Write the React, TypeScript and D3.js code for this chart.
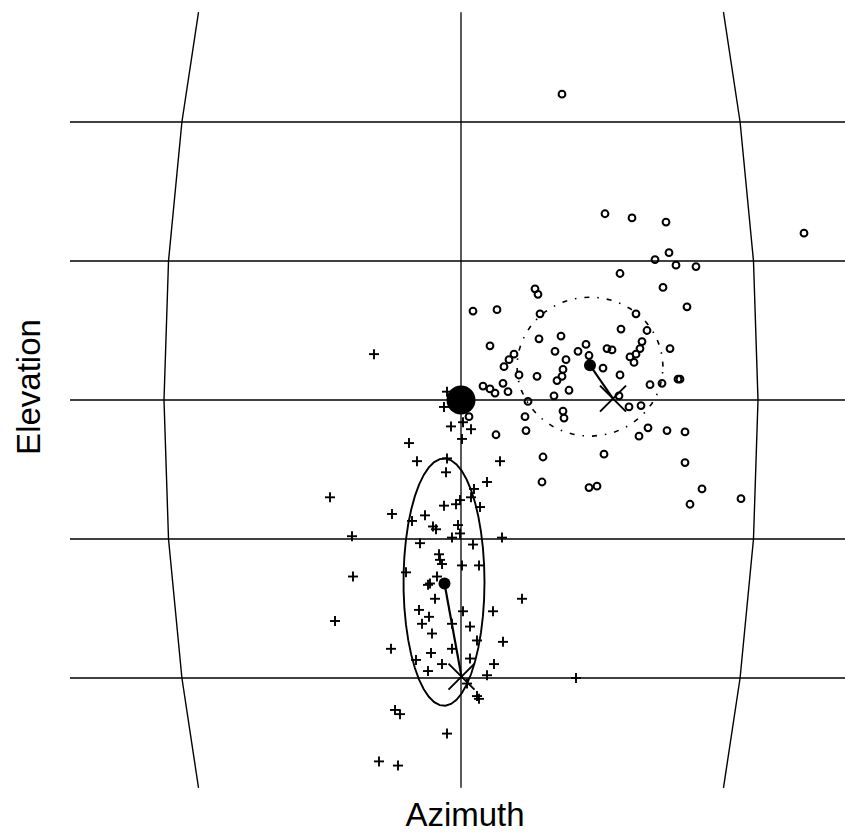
import React from "react";
import * as d3 from "d3";

// ---- data (azimuth / elevation, degrees) ----
const gridElevations = [-20, -10, 0, 10, 20];
const elevationExtent = [-27.9, 27.9];
const meridianAzimuths = [-29.7, 29.7];
const parallelAzimuthExtent = [-39.1, 40];
const meridianSampleElevations = [-27.9, -20, -10, 0, 10, 20, 27.9];

const circleAz = [10.1, 14.4, 17.1, 20.5, 34.3, 20.8, 19.4, 21.5, 23.5, 15.9, 20.2, 7.4, 7.7, 22.6, 1.2, 3.6, 7.9, 17.5, 16.0, 18.6, 2.9, 7.8, 10.0, 12.5, 9.4, 11.7, 14.6, 15.1, 18.1, 17.9, 17.5, 16.9, 17.3, 20.9, 5.3, 4.8, 4.3, 10.5, 12.8, 10.2, 10.1, 9.6, 14.2, 5.8, 7.6, 15.9, 4.2, 2.2, 2.9, 3.4, 4.7, 10.8, 9.3, 18.9, 20.1, 21.7, 21.9, 6.7, 15.8, 16.8, 18.0, 6.4, 10.2, 10.3, 0.8, 3.5, 6.5, 18.7, 17.8, 20.6, 22.4, 8.2, 14.3, 22.4, 8.1, 12.8, 13.6, 24.1, 22.9, 28.0];
const circleEl = [22.0, 13.4, 13.1, 12.8, 12.0, 10.6, 10.1, 9.7, 9.6, 9.1, 8.1, 8.0, 7.6, 6.7, 6.4, 6.5, 6.2, 6.2, 5.1, 5.0, 3.9, 4.4, 4.6, 4.0, 3.5, 3.5, 3.7, 3.6, 4.2, 3.7, 3.3, 3.1, 2.7, 3.7, 3.3, 2.9, 2.4, 2.9, 3.2, 2.2, 1.7, 1.4, 2.3, 1.8, 1.7, 1.8, 1.2, 1.0, 0.8, 0.5, 0.6, 0.7, 0.3, 1.1, 1.2, 1.5, 1.5, -0.1, 0.3, -0.5, -0.4, -1.2, -0.8, -1.3, -1.2, -2.5, -2.2, -2.0, -2.6, -2.2, -2.3, -4.1, -3.9, -4.5, -5.9, -6.3, -6.2, -6.4, -7.5, -7.1];

const plusAz = [-8.7, -1.4, -1.7, -1.0, 0.2, 1.0, 0.1, -5.2, -4.4, -1.4, 3.9, -1.5, 2.6, 1.3, 1.0, -0.1, -0.5, -1.7, 1.9, -13.1, -6.9, -3.6, -4.9, -2.8, -2.5, -0.3, -0.1, -0.9, -10.9, -4.1, 1.2, 4.1, -2.2, -2.1, -1.9, 0.1, 1.8, -5.5, -10.8, -2.4, -3.3, -3.1, -2.6, 6.1, -12.6, -4.2, 0.2, 3.2, -3.2, -3.9, -0.9, 0.9, -2.9, 1.6, 4.2, -7.0, -3.0, -0.9, -4.5, 0.9, -1.9, 3.3, -3.3, 2.6, 11.5, 0.6, 1.6, 1.8, -6.6, -6.1, -1.4, -8.2, -6.3];
const plusEl = [3.3, 0.6, -0.5, -1.9, -1.6, -2.1, -2.8, -3.1, -4.4, -4.2, -4.4, -5.2, -5.9, -6.4, -7.0, -7.2, -7.5, -7.6, -7.7, -7.0, -8.2, -8.3, -8.7, -9.1, -9.3, -9.0, -9.6, -9.9, -9.8, -10.3, -10.4, -9.9, -11.1, -11.5, -11.8, -11.9, -11.9, -12.4, -12.7, -12.7, -13.3, -13.2, -14.3, -14.3, -15.9, -15.1, -15.2, -15.2, -15.6, -16.1, -16.1, -16.3, -16.8, -17.3, -17.4, -17.9, -18.2, -17.9, -18.7, -18.6, -19.0, -19.0, -19.5, -19.8, -20.0, -20.4, -21.3, -21.5, -22.3, -22.6, -24.0, -26.0, -26.3];

// origin, group means, targets (X) and spread ellipses
const origin = [0, 0];
const circleMean = [12.9, 2.5];
const circleTarget = [15.2, 0.1];
const circleEllipse = [12.9, 2.4, 7.3, 5.0]; // cx, cy, rAz, rEl
const plusMean = [-1.65, -13.2];
const plusTarget = [0.05, -19.9];
const plusEllipse = [-1.7, -13.1, 4.05, 8.9];

const W = 845;
const H = 834;

export default function App() {
  const x = d3.scaleLinear().domain([-30, 30]).range([161, 761]);
  const y = d3.scaleLinear().domain([-20, 20]).range([678, 122]);
  const rad = Math.PI / 180;

  const meridianPath = (az: number) =>
    d3
      .line<number>()
      .x((el) => x(az * Math.cos(el * rad)))
      .y((el) => y(el))(meridianSampleElevations) as string;

  const ellipsePath = (e: number[]) => {
    const pts = d3.range(0, 361, 8).map((t) => [
      x(e[0] + e[2] * Math.cos(t * rad)),
      y(e[1] + e[3] * Math.sin(t * rad)),
    ]);
    return d3.line()(pts as [number, number][]) as string;
  };

  const circles = circleAz.map((a, i) => [a, circleEl[i]]);
  const pluses = plusAz.map((a, i) => [a, plusEl[i]]);

  const ps = 5;
  const xs = 13;

  const cross = (p: number[], key: string) => {
    const cx = x(p[0]);
    const cy = y(p[1]);
    return (
      <g key={key} stroke="#000" strokeWidth={2}>
        <line x1={cx - xs} y1={cy - xs} x2={cx + xs} y2={cy + xs} />
        <line x1={cx - xs} y1={cy + xs} x2={cx + xs} y2={cy - xs} />
      </g>
    );
  };

  return (
    <svg
      width={W}
      height={H}
      style={{ position: "absolute", left: 0, top: 0, background: "#fff" }}
      fontFamily="'Liberation Sans', Arial, sans-serif"
    >
      <rect width={W} height={H} fill="#fff" />
      {/* parallels */}
      {gridElevations.map((el) => (
        <line
          key={"h" + el}
          x1={x(parallelAzimuthExtent[0])}
          x2={x(parallelAzimuthExtent[1])}
          y1={y(el)}
          y2={y(el)}
          stroke="#000"
          strokeWidth={1.3}
        />
      ))}
      {/* central meridian */}
      <line
        x1={x(0)}
        x2={x(0)}
        y1={y(elevationExtent[1])}
        y2={y(elevationExtent[0])}
        stroke="#000"
        strokeWidth={1.3}
      />
      {meridianAzimuths.map((az) => (
        <path key={"m" + az} d={meridianPath(az)} fill="none" stroke="#000" strokeWidth={1.4} />
      ))}

      {/* circle ellipse (dash-dot) */}
      <path
        d={ellipsePath(circleEllipse)}
        fill="none"
        stroke="#000"
        strokeWidth={1.6}
        strokeDasharray="5 8 1.5 8"
      />
      {/* plus ellipse */}
      <path d={ellipsePath(plusEllipse)} fill="none" stroke="#000" strokeWidth={1.9} />

      {/* open circles */}
      {circles.map((p, i) => (
        <circle key={"c" + i} cx={x(p[0])} cy={y(p[1])} r={3.4} fill="none" stroke="#000" strokeWidth={2} />
      ))}
      {/* pluses */}
      {pluses.map((p, i) => (
        <g key={"p" + i} stroke="#000" strokeWidth={1.9}>
          <line x1={x(p[0]) - ps} x2={x(p[0]) + ps} y1={y(p[1])} y2={y(p[1])} />
          <line x1={x(p[0])} x2={x(p[0])} y1={y(p[1]) - ps} y2={y(p[1]) + ps} />
        </g>
      ))}

      {/* mean -> target lines */}
      <line x1={x(circleMean[0])} y1={y(circleMean[1])} x2={x(circleTarget[0])} y2={y(circleTarget[1])} stroke="#000" strokeWidth={2.2} />
      <line x1={x(plusMean[0])} y1={y(plusMean[1])} x2={x(plusTarget[0])} y2={y(plusTarget[1])} stroke="#000" strokeWidth={2.2} />
      {cross(circleTarget, "xc")}
      {cross(plusTarget, "xp")}
      <circle cx={x(circleMean[0])} cy={y(circleMean[1])} r={6} fill="#000" />
      <circle cx={x(plusMean[0])} cy={y(plusMean[1])} r={6} fill="#000" />
      <circle cx={x(origin[0])} cy={y(origin[1])} r={14.5} fill="#000" />

      {/* axis titles */}
      <text x={465} y={826} textAnchor="middle" fontSize={33} fill="#000">
        Azimuth
      </text>
      <text
        transform={`translate(40,387) rotate(-90)`}
        textAnchor="middle"
        fontSize={33}
        fill="#000"
      >
        Elevation
      </text>
    </svg>
  );
}
